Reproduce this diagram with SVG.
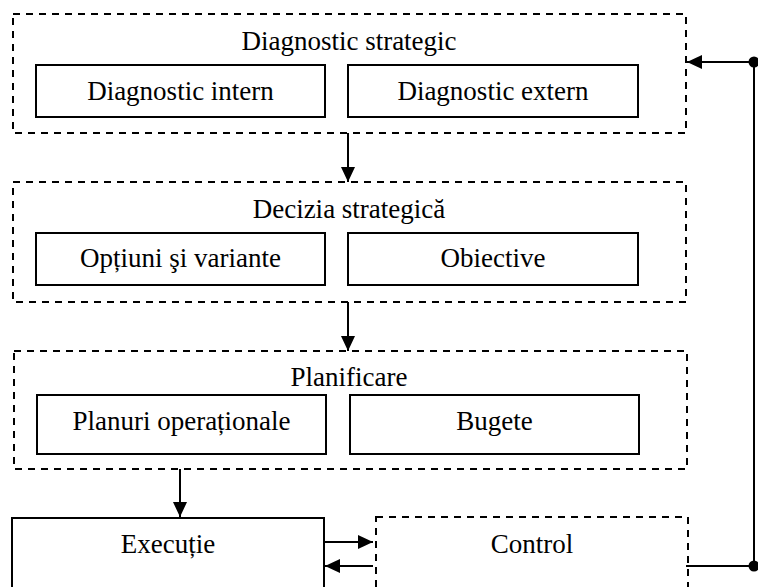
<svg xmlns="http://www.w3.org/2000/svg" width="758" height="587" viewBox="0 0 758 587">
<style>
text{font-family:"Liberation Serif","Times New Roman",serif;font-size:27px;fill:#000;text-anchor:middle}
.dash{fill:none;stroke:#000;stroke-width:2;stroke-dasharray:7 6}
.box{fill:#fff;stroke:#000;stroke-width:2}
.ln{fill:none;stroke:#000;stroke-width:2}
</style>
<defs>
<marker id="ah" viewBox="0 0 15 14" refX="15" refY="7" markerWidth="15" markerHeight="14" markerUnits="userSpaceOnUse" orient="auto">
<path d="M0,0 L15,7 L0,14 Z" fill="#000"/>
</marker>
</defs>
<rect width="758" height="587" fill="#fff"/>
<g id="diagnostic-strategic">
<rect class="dash" x="13" y="14" width="673" height="119"/>
<text x="349" y="50">Diagnostic strategic</text>
</g>
<g id="diagnostic-intern">
<rect class="box" x="36" y="65" width="289" height="52"/>
<text x="180.5" y="100">Diagnostic intern</text>
</g>
<g id="diagnostic-extern">
<rect class="box" x="348" y="65" width="290" height="52"/>
<text x="493" y="100">Diagnostic extern</text>
</g>
<g id="decizia-strategica">
<rect class="dash" x="13" y="182" width="673" height="120"/>
<text x="349" y="218">Decizia strategică</text>
</g>
<g id="optiuni">
<rect class="box" x="36" y="233" width="289" height="52"/>
<text x="180.5" y="267">Opțiuni şi variante</text>
</g>
<g id="obiective">
<rect class="box" x="348" y="233" width="290" height="52"/>
<text x="493" y="267">Obiective</text>
</g>
<g id="planificare">
<rect class="dash" x="14" y="351" width="673" height="118"/>
<text x="349" y="386">Planificare</text>
</g>
<g id="planuri">
<rect class="box" x="37" y="395" width="289" height="59"/>
<text x="181.5" y="430">Planuri operaționale</text>
</g>
<g id="bugete">
<rect class="box" x="350" y="395" width="289" height="59"/>
<text x="494.5" y="430">Bugete</text>
</g>
<g id="executie">
<rect class="box" x="12" y="518" width="312" height="100"/>
<text x="168" y="553">Execuție</text>
</g>
<g id="control">
<rect class="dash" x="376" y="517" width="312" height="100"/>
<text x="532" y="553">Control</text>
</g>
<g id="connectors">
<line class="ln" x1="348" y1="133" x2="348" y2="182" marker-end="url(#ah)"/>
<line class="ln" x1="348" y1="302" x2="348" y2="351" marker-end="url(#ah)"/>
<line class="ln" x1="180" y1="469" x2="180" y2="517" marker-end="url(#ah)"/>
<line class="ln" x1="324" y1="542" x2="373" y2="542" marker-end="url(#ah)"/>
<line class="ln" x1="373" y1="566" x2="325" y2="566" marker-end="url(#ah)"/>
<polyline class="ln" points="686,566 754,566 754,62 687,62" marker-end="url(#ah)"/>
<circle cx="754" cy="566" r="5.5" fill="#000"/>
<circle cx="754" cy="62" r="5.5" fill="#000"/>
</g>
</svg>
